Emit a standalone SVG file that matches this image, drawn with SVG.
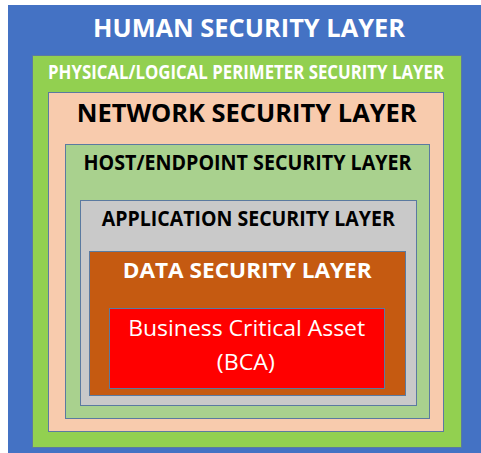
<svg xmlns="http://www.w3.org/2000/svg" width="481" height="453" viewBox="0 0 481 453">
  <style>
    .layer { stroke: #5b7aa0; stroke-width: 1; }
    .title { font-family: "Open Sans", "Liberation Sans", sans-serif; font-weight: bold; text-anchor: middle; }
    .light { fill: #ffffff; }
    .dark { fill: #000000; }
    .asset { font-family: "Open Sans", "Liberation Sans", sans-serif; font-weight: normal; text-anchor: middle; fill: #ffffff; }
  </style>
  <rect x="0" y="0" width="481" height="453" fill="#ffffff"/>

  <!-- nested defence-in-depth layers, outermost first -->
  <g id="human-layer">
    <rect x="8" y="5" width="473" height="448" fill="#4472c4"/>
    <text class="title light" x="249" y="37" font-size="25" textLength="312" lengthAdjust="spacingAndGlyphs">HUMAN SECURITY LAYER</text>
  </g>

  <g id="perimeter-layer">
    <rect class="layer" x="32.5" y="55.5" width="429" height="392" fill="#92d050"/>
    <!-- long label: condensed horizontally so it stays inside its band -->
    <g transform="translate(246 79) scale(0.8 1)">
      <text class="title light" x="0" y="0" font-size="19" textLength="495" lengthAdjust="spacingAndGlyphs">PHYSICAL/LOGICAL PERIMETER SECURITY LAYER</text>
    </g>
  </g>

  <g id="network-layer">
    <rect class="layer" x="48.5" y="92.5" width="395" height="339" fill="#f8cbad"/>
    <text class="title dark" x="246.7" y="122.3" font-size="25" textLength="340" lengthAdjust="spacingAndGlyphs">NETWORK SECURITY LAYER</text>
  </g>

  <g id="host-layer">
    <rect class="layer" x="65.5" y="144.5" width="364" height="274" fill="#a9d18e"/>
    <text class="title dark" x="247.5" y="170" font-size="21" textLength="328" lengthAdjust="spacingAndGlyphs">HOST/ENDPOINT SECURITY LAYER</text>
  </g>

  <g id="application-layer">
    <rect class="layer" x="80.5" y="200.5" width="336" height="205" fill="#c9c9c9"/>
    <text class="title dark" x="248.3" y="226" font-size="21" textLength="293" lengthAdjust="spacingAndGlyphs">APPLICATION SECURITY LAYER</text>
  </g>

  <g id="data-layer">
    <rect class="layer" x="89.5" y="251.5" width="316" height="144" fill="#c55a11"/>
    <text class="title light" x="247.2" y="278.3" font-size="21" textLength="249" lengthAdjust="spacingAndGlyphs">DATA SECURITY LAYER</text>
  </g>

  <g id="business-critical-asset">
    <rect class="layer" x="109.5" y="308.5" width="275" height="80" fill="#ff0000"/>
    <text class="asset" x="246.7" y="336" font-size="22" textLength="237" lengthAdjust="spacingAndGlyphs">Business Critical Asset</text>
    <text class="asset" x="245.8" y="370" font-size="22" textLength="58" lengthAdjust="spacingAndGlyphs">(BCA)</text>
  </g>
</svg>
